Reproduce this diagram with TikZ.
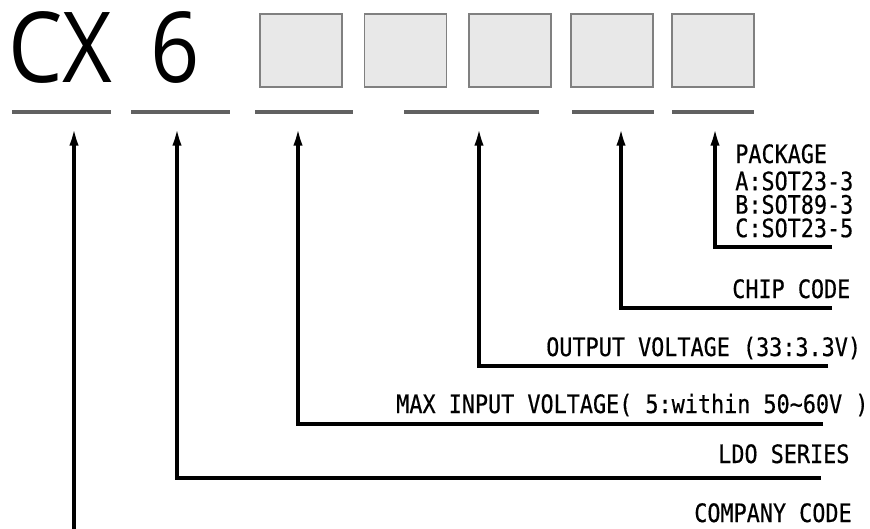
\documentclass[tikz,border=0pt]{standalone}
\usepackage{fontspec}
\usetikzlibrary{arrows.meta}
\newfontfamily\codefont[FakeStretch=0.88]{Open Sans}
\newfontfamily\labelfont[FakeStretch=0.86,FakeBold=0.5]{DejaVu Sans Mono}
\tikzset{
  slot/.style={draw=black!50,fill=black!9,line width=1.1pt,minimum width=61.5pt,minimum height=54.75pt,inner sep=0pt},
  bar/.style={draw=black!62,line width=2.5pt},
  lead/.style={line width=2.6pt,-{Latex[length=14pt,width=7pt]}},
  big/.style={anchor=base west,inner sep=0pt,font=\codefont\fontsize{73.5}{80}\selectfont},
  lbl/.style={anchor=base west,inner sep=0pt,font=\labelfont\fontsize{19}{22}\selectfont}
}
\begin{document}
\begin{tikzpicture}[x=0.75pt,y=-0.75pt]
\useasboundingbox (0,0) rectangle (870,528);
% part number
\node[big] (cx) at (8,83) {CX};
\node[big] (six) at (150,83) {6};
\node[slot] (s1) at (301,50.5) {};
\node[slot] (s2) at (405.5,50.5) {};
\node[slot] (s3) at (510,50.5) {};
\node[slot] (s4) at (612,50.5) {};
\node[slot] (s5) at (713,50.5) {};
% underlines
\draw[bar] (12,112) -- (111,112);
\draw[bar] (131,112) -- (230,112);
\draw[bar] (255,112) -- (353,112);
\draw[bar] (404,112) -- (539,112);
\draw[bar] (572,112) -- (654,112);
\draw[bar] (672,112) -- (754,112);
% arrow tips and line ends
\coordinate (t1) at (74,127);
\coordinate (t2) at (177,127);
\coordinate (t3) at (298,127);
\coordinate (t4) at (479,127);
\coordinate (t5) at (621,127);
\coordinate (t6) at (715,127);
\coordinate (e1) at (74,530);
\coordinate (e2) at (821,478);
\coordinate (e3) at (823,424);
\coordinate (e4) at (828,366);
\coordinate (e5) at (832,308);
\coordinate (e6) at (832,247);
\draw[lead] (e1) -- (t1);
\draw[lead] (e2) -| (t2);
\draw[lead] (e3) -| (t3);
\draw[lead] (e4) -| (t4);
\draw[lead] (e5) -| (t5);
\draw[lead] (e6) -| (t6);
% labels
\node[lbl] (pkg) at (735,163) {\vtop{\baselineskip=17.6pt\lineskiplimit=-20pt
  \hbox{PACKAGE}\vskip2.8pt\hbox{A:SOT23-3}\hbox{B:SOT89-3}\hbox{C:SOT23-5}}};
\node[lbl] (chip) at (732,298) {CHIP CODE};
\node[lbl] (vout) at (546,356) {OUTPUT VOLTAGE (33:3.3V)};
\node[lbl] (vin) at (396,413) {MAX INPUT VOLTAGE( 5:within 50\char`\~60V )};
\node[lbl] (ldo) at (718,463) {LDO SERIES};
\node[lbl] (comp) at (694,522) {COMPANY CODE};
\end{tikzpicture}
\end{document}
